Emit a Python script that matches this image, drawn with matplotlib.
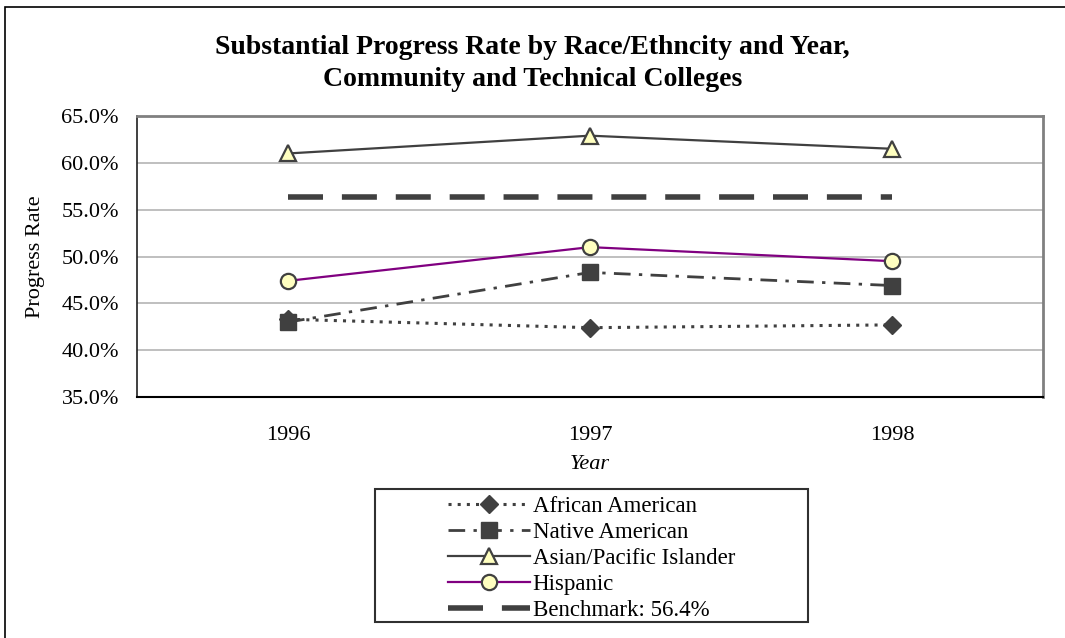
import matplotlib
matplotlib.use("Agg")
import matplotlib.pyplot as plt
from matplotlib.patches import Rectangle

years = ['1996', '1997', '1998']
african_american = [43.3, 42.4, 42.7]
native_american = [43.0, 48.3, 46.9]
asian_pacific = [61.0, 62.9, 61.5]
hispanic = [47.4, 51.0, 49.5]
benchmark = 56.4

plt.rcParams['font.family'] = ['Liberation Serif', 'DejaVu Serif']

fig = plt.figure(figsize=(10.65, 6.38), dpi=100)
ax = fig.add_axes([137 / 1065, 1 - 397 / 638, 906 / 1065, 281 / 638])

x = range(len(years))
dark = '#404040'
pale = '#ffffc0'

ax.plot(x, african_american, linestyle=(0, (1, 2.0)), color=dark, linewidth=2.2,
        marker='D', markersize=9, markerfacecolor=dark, markeredgecolor=dark,
        label='African American', zorder=3)
ax.plot(x, native_american, linestyle=(0, (6, 3, 1.2, 3)), color=dark, linewidth=2,
        marker='s', markersize=12, markerfacecolor=dark, markeredgecolor=dark,
        label='Native American', zorder=4)
ax.plot(x, asian_pacific, linestyle='-', color=dark, linewidth=1.6,
        marker='^', markersize=11, markerfacecolor=pale, markeredgecolor=dark,
        markeredgewidth=1.6, label='Asian/Pacific Islander', zorder=5)
ax.plot(x, hispanic, linestyle='-', color='#800080', linewidth=1.6,
        marker='o', markersize=11, markerfacecolor=pale, markeredgecolor=dark,
        markeredgewidth=1.6, label='Hispanic', zorder=6)
ax.plot(x, [benchmark] * len(years), linestyle=(0, (6.3, 3.4)), color=dark,
        linewidth=4, label='Benchmark: 56.4%', zorder=2)

ax.set_xlim(-0.5, 2.5)
ax.set_ylim(35, 65)
ax.set_yticks([35, 40, 45, 50, 55, 60, 65])
ax.set_yticklabels(['%.1f%%' % v for v in [35, 40, 45, 50, 55, 60, 65]], fontsize=16)
ax.set_xticks(list(x))
ax.set_xticklabels(years, fontsize=16)
ax.tick_params(axis='x', length=0, pad=21)
ax.tick_params(axis='y', length=0, pad=13)
ax.grid(axis='y', color='#b4b4b4', linewidth=1.2, zorder=0)
ax.set_axisbelow(True)

for side in ['top', 'right']:
    ax.spines[side].set_color('#808080')
    ax.spines[side].set_linewidth(2)
ax.spines['left'].set_color('#202020')
ax.spines['left'].set_linewidth(1.2)
ax.spines['bottom'].set_color('black')
ax.spines['bottom'].set_linewidth(1.5)

ax.set_ylabel('Progress Rate', fontsize=16, labelpad=12)
ax.set_xlabel('Year', fontsize=16, style='italic', labelpad=7)

fig.text(0.5, 1 - 47 / 638, 'Substantial Progress Rate by Race/Ethncity and Year,',
         ha='center', va='center', fontsize=20, fontweight='bold')
fig.text(0.5, 1 - 80 / 638, 'Community and Technical Colleges',
         ha='center', va='center', fontsize=20, fontweight='bold')

# outer chart frame and legend box
fig.patches.append(Rectangle((5 / 1065, -0.01), 1.02, 1 - 7 / 638 + 0.01,
                             transform=fig.transFigure, fill=False,
                             edgecolor='black', linewidth=1.2))
fig.patches.append(Rectangle((375 / 1065, 1 - 622 / 638), 433 / 1065, 133 / 638,
                             transform=fig.transFigure, fill=False,
                             edgecolor='#303030', linewidth=1.5))

fig.legend(loc='center', bbox_to_anchor=((375 + 808) / 2 / 1065, 1 - 558.5 / 638),
           frameon=False, fontsize=16.5, handlelength=3.6, handletextpad=0.1,
           labelspacing=0.22, borderpad=0)

fig.savefig('out.png', dpi=100)
